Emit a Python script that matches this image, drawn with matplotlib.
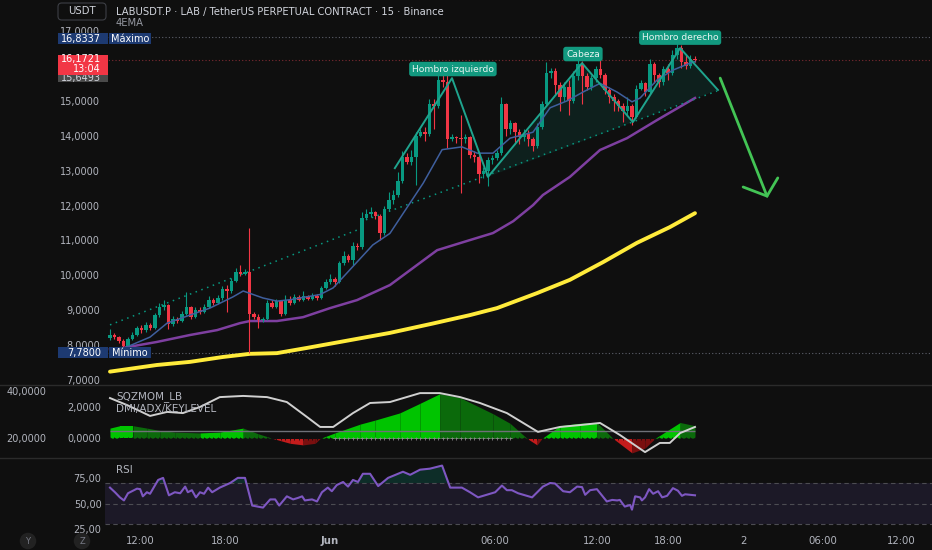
import numpy as np
import matplotlib.pyplot as plt
from matplotlib.patches import Rectangle, FancyBboxPatch
from matplotlib.lines import Line2D
from matplotlib.transforms import blended_transform_factory

# --- velas de 15 min (apertura = cierre anterior) ---
first_open = 8.20
closes = [8.30, 8.22, 8.12, 7.97, 8.18, 8.30, 8.48, 8.42, 8.58, 8.50,
          8.85, 9.10, 9.15, 8.60, 8.75, 8.70, 8.90, 9.08, 8.80, 9.00,
          8.95, 9.10, 9.30, 9.22, 9.35, 9.60, 9.55, 9.85, 10.10, 10.05,
          10.10, 8.90, 8.80, 8.72, 8.75, 9.20, 9.10, 9.25, 8.88, 9.30,
          9.22, 9.38, 9.30, 9.40, 9.33, 9.42, 9.35, 9.65, 9.80, 9.90,
          9.80, 10.35, 10.55, 10.45, 10.85, 10.80, 11.65, 11.75, 11.80, 11.70,
          11.20, 11.90, 12.15, 12.30, 12.70, 13.40, 13.25, 13.40, 14.00, 14.10,
          14.05, 14.90, 14.85, 15.60, 15.55, 13.90, 13.95, 13.92, 13.90, 13.95,
          13.45, 13.40, 12.90, 13.00, 13.30, 13.35, 13.50, 14.90, 14.20, 14.35,
          14.10, 13.95, 14.05, 13.90, 13.70, 14.25, 14.90, 15.80, 15.85, 15.45,
          15.10, 15.40, 15.00, 15.70, 16.05, 15.70, 15.40, 15.65, 15.90, 15.75,
          15.30, 15.10, 15.00, 14.85, 14.70, 14.85, 14.55, 15.35, 15.50, 15.25,
          16.05, 15.75, 15.55, 15.90, 15.80, 16.30, 16.50, 16.10, 16.00, 16.20,
          16.1721]
highs = [8.45, 8.35, 8.26, 8.18, 8.22, 8.38, 8.55, 8.58, 8.66, 8.62,
         8.92, 9.20, 9.30, 9.18, 8.82, 8.80, 8.97, 9.52, 9.12, 9.08,
         9.10, 9.18, 9.42, 9.36, 9.44, 9.68, 9.72, 9.92, 10.20, 10.30,
         10.18, 11.35, 8.95, 8.90, 8.80, 9.28, 9.30, 9.32, 9.30, 9.45,
         9.40, 9.46, 9.44, 9.55, 9.45, 9.48, 9.46, 9.70, 9.90, 10.05,
         9.95, 10.42, 10.70, 10.62, 10.95, 10.92, 11.80, 11.90, 11.95, 11.85,
         11.75, 12.00, 12.40, 12.45, 12.95, 13.55, 13.50, 13.60, 14.10, 14.20,
         14.25, 15.05, 15.05, 15.80, 15.85, 15.90, 14.05, 14.00, 14.60, 14.05,
         14.00, 13.55, 13.45, 13.10, 13.40, 13.45, 13.60, 15.10, 14.95, 14.45,
         14.40, 14.20, 14.20, 14.15, 13.95, 14.35, 15.00, 16.10, 15.95, 15.95,
         15.55, 15.55, 15.60, 15.85, 16.50, 16.15, 15.80, 15.75, 16.00, 16.30,
         15.80, 15.40, 15.20, 15.05, 14.95, 15.10, 14.90, 15.45, 15.60, 15.55,
         16.20, 16.10, 15.80, 16.00, 16.05, 16.45, 16.8337, 16.60, 16.30, 16.30,
         16.28]
lows = [8.15, 8.18, 8.05, 7.90, 7.92, 8.14, 8.25, 8.35, 8.38, 8.44,
        8.47, 8.80, 9.00, 8.45, 8.56, 8.62, 8.66, 8.85, 8.74, 8.77,
        8.88, 8.92, 9.05, 9.16, 9.18, 9.30, 8.95, 9.50, 9.80, 9.98,
        10.00, 7.78, 8.74, 8.50, 8.66, 8.72, 9.05, 9.06, 8.82, 8.85,
        9.16, 9.18, 9.25, 9.26, 9.28, 9.30, 9.30, 9.32, 9.60, 9.75,
        9.70, 9.78, 10.30, 10.38, 10.30, 10.72, 10.75, 11.60, 11.68, 11.62,
        11.00, 11.15, 11.85, 12.05, 12.25, 12.65, 13.20, 13.15, 12.60, 13.95,
        13.85, 14.00, 14.20, 14.80, 15.40, 13.65, 13.85, 13.80, 12.35, 13.80,
        13.35, 13.25, 12.65, 12.80, 12.55, 13.20, 13.30, 13.45, 14.00, 14.05,
        13.80, 13.75, 13.85, 13.70, 13.55, 13.65, 14.20, 14.85, 15.65, 15.20,
        14.70, 15.00, 14.60, 14.95, 15.60, 14.90, 15.30, 15.30, 15.55, 15.65,
        15.20, 14.95, 14.70, 14.70, 14.40, 14.60, 14.30, 14.50, 15.30, 15.15,
        15.20, 15.50, 15.40, 15.45, 15.60, 15.75, 16.20, 15.95, 15.90, 15.95,
        16.10]

max_price = 16.8337
min_price = 7.78
last_price = 16.1721
last_time = "13:04"
prev_price = 15.6493

# --- medias (leídas cada pocas velas) ---
ema_fast_x = [3.8, 8.9, 12.7, 17.1, 22.2, 27.3, 29.6, 34.0, 37.1, 40.0,
              46.7, 49.6, 58.4, 62.2, 69.6, 73.8, 78.2, 81.6, 85.1, 88.9,
              94.0, 97.8, 101.6, 105.1, 108.9, 112.7, 116.0, 117.8, 121.6, 125.1,
              128.9, 130.0]
ema_fast = [7.95, 8.23, 8.63, 8.83, 9.06, 9.38, 9.55, 9.35, 9.26, 9.30,
            9.45, 9.64, 10.87, 11.20, 12.64, 13.60, 13.68, 13.50, 13.50, 13.93,
            14.10, 14.80, 15.00, 15.25, 15.50, 15.25, 14.97, 15.08, 15.60, 15.88,
            16.08, 16.12]
ema_mid_x = [0, 2.9, 10.4, 17.8, 23.8, 28.9, 31.1, 37.1, 42.9, 48.9,
             54.9, 62.2, 72.7, 80.0, 85.1, 89.6, 94.0, 96.2, 102.2, 108.9,
             114.9, 121.6, 130.0]
ema_mid = [7.88, 7.92, 8.09, 8.29, 8.43, 8.63, 8.69, 8.69, 8.80, 9.06,
           9.29, 9.72, 10.72, 11.01, 11.21, 11.55, 12.01, 12.30, 12.82, 13.59,
           13.93, 14.45, 15.08]
ema_slow_x = [0, 10.4, 17.8, 25.1, 31.1, 37.1, 43.8, 51.1, 62.2, 71.8,
              80.0, 86.0, 94.9, 102.2, 109.6, 117.1, 124.4, 130.0]
ema_slow = [7.24, 7.43, 7.52, 7.66, 7.75, 7.77, 7.92, 8.09, 8.35, 8.62,
            8.86, 9.06, 9.49, 9.87, 10.38, 10.93, 11.38, 11.78]

# --- dibujos: tendencia, hombro-cabeza-hombro, flecha ---
trend_x = [0, 55.6]
trend_y = [8.58, 11.33]
neck_x = [55.6, 134.9]
neck_y = [11.53, 15.28]
hs_x = [63.3, 76.0, 84.0, 104.9, 116.2, 126.7, 135.1]
hs_y = [13.07, 15.65, 12.82, 16.08, 14.39, 16.51, 15.31]
hs_labels = ["Hombro izquierdo", "Cabeza", "Hombro derecho"]
hs_label_x = [76.2, 105.1, 126.7]
hs_label_y = [15.91, 16.34, 16.81]
arrow_x = [135.6, 146.0]
arrow_y = [15.65, 12.27]
arrow_head_x = [140.7, 146.0, 148.4]
arrow_head_y = [12.53, 12.27, 12.79]

# --- SQZMOM / ADX ---
mom_x = [0, 2.2, 5.1, 8.2, 11.1, 14.4, 20.0, 24.4, 29.6, 32.9,
         36.2, 40.0, 42.9, 45.6, 46.7, 50.0, 55.6, 58.9, 64.4, 68.9,
         73.3, 77.8, 85.1, 88.9, 92.7, 94.9, 96.0, 100.0, 104.4, 108.2,
         111.8, 116.0, 118.9, 121.1, 126.7, 130.0]
mom = [0.65, 0.80, 0.80, 0.65, 0.50, 0.40, 0.35, 0.40, 0.65, 0.30,
       0.00, -0.30, -0.40, -0.30, 0.00, 0.35, 0.90, 1.15, 1.60, 2.20,
       2.80, 2.55, 1.55, 0.95, 0.00, -0.40, 0.00, 0.80, 0.95, 1.00,
       0.00, -0.90, -0.60, 0.00, 1.00, 0.80]
squeeze_off = (50, 89)
adx_x = [0, 3.8, 8.9, 12.7, 16.2, 20.0, 24.4, 29.6, 34.9, 39.3,
         43.8, 46.7, 49.6, 54.0, 57.8, 62.2, 68.9, 73.3, 77.8, 82.2,
         88.2, 95.1, 100.0, 104.4, 108.9, 113.3, 118.9, 122.2, 124.4, 126.7,
         130.0]
adx = [37.0, 34.0, 29.4, 31.1, 30.6, 33.2, 37.4, 37.9, 37.4, 35.3,
       28.9, 24.7, 24.7, 30.6, 34.9, 35.3, 39.1, 39.1, 37.4, 34.9,
       30.6, 22.6, 24.7, 25.5, 26.4, 21.3, 14.0, 17.9, 17.9, 22.1,
       24.7]
key_level = 23

# --- RSI ---
rsi_x = [0, 1.1, 2.2, 3.1, 4.0, 6.0, 6.7, 7.3, 8.2, 8.9,
         10.7, 11.8, 13.1, 14.4, 15.6, 16.7, 17.3, 18.2, 19.1, 20.0,
         20.9, 21.8, 22.7, 24.4, 26.7, 28.4, 30.0, 31.6, 34.0, 35.6,
         36.7, 37.6, 39.3, 40.7, 41.8, 42.7, 43.3, 44.9, 46.0, 47.1,
         48.4, 49.3, 50.4, 51.8, 52.9, 54.0, 55.1, 56.2, 57.8, 59.6,
         61.8, 65.1, 66.7, 68.9, 71.1, 73.8, 75.6, 78.2, 80.0, 81.8,
         85.6, 87.1, 88.2, 89.3, 90.7, 93.8, 96.2, 97.8, 98.9, 100.7,
         102.2, 103.8, 104.9, 105.6, 106.7, 108.2, 110.4, 111.6, 112.7, 113.3,
         114.4, 115.6, 116.0, 116.7, 117.8, 118.2, 118.9, 119.8, 120.7, 121.8,
         122.7, 123.8, 125.1, 126.2, 127.1, 127.8, 130.0]
rsi = [65.5, 61, 56, 53, 60, 64.5, 64, 57, 61, 59.5,
       73, 75, 58, 61, 60, 66.5, 61, 63, 56, 61,
       59.5, 65.5, 61, 65.5, 70, 75, 75, 48, 46, 54,
       54, 48, 57, 54, 55.5, 57, 53, 54, 52, 61,
       65.5, 62, 68, 71, 66.5, 73, 71, 79, 79, 67,
       75, 81, 78, 83, 84, 87, 65.5, 65.5, 61, 56,
       61, 67.5, 63, 63, 60, 56, 66.5, 70, 69.5, 62,
       61, 66.5, 66, 58.5, 63, 64, 52, 53.5, 53, 53.5,
       47, 48.5, 44, 57, 56, 53, 56, 64, 59.5, 62,
       56, 57.5, 65, 62.5, 57.5, 59, 58]

time_ticks = [6.8, 25.7, 48.7, 85.6, 108.2, 124.0, 140.7, 158.4, 175.8]
time_labels = ["12:00", "18:00", "Jun", "06:00", "12:00", "18:00", "2", "06:00", "12:00"]
price_ticks = [7, 8, 9, 10, 11, 12, 13, 14, 15, 17]

title = "LABUSDT.P · LAB / TetherUS PERPETUAL CONTRACT · 15 · Binance"

# colores TradingView
BG = "#0f0f0f"
TXT = "#b2b5be"
UP = "#089981"
DOWN = "#f23645"
NAVY = "#1d3a72"
W, H = 932, 550


def fx(x):
    return x / W


def fy(y):
    return 1 - y / H


def coma(v, dec):
    return f"{v:.{dec}f}".replace(".", ",")


fig = plt.figure(figsize=(W / 100, H / 100), dpi=100, facecolor=BG)
left, width = fx(105), fx(932) - fx(105)
ax = fig.add_axes([left, fy(385), width, 385 / H])
ax_sqz = fig.add_axes([left, fy(458), width, 73 / H])
ax_rsi = fig.add_axes([left, fy(532), width, 74 / H])

xlim = (-1.11, 182.67)
for a in (ax, ax_sqz, ax_rsi):
    a.set_facecolor(BG)
    a.set_xlim(*xlim)
    for s in a.spines.values():
        s.set_visible(False)
    a.tick_params(axis="both", colors=TXT, labelsize=7, length=0)
    a.set_xticks([])

# ---------------- panel principal ----------------
ax.set_ylim(6.857, 17.888)
c = np.array(closes)
o = np.r_[first_open, c[:-1]]
idx = np.arange(len(c))
cols = np.where(c >= o, UP, DOWN)
ax.vlines(idx, lows, highs, colors=cols, lw=0.8, zorder=3)
ax.bar(idx, np.maximum(np.abs(c - o), 0.03), bottom=np.minimum(o, c),
       width=0.75, color=cols, lw=0, zorder=4)

ax.plot(ema_slow_x, ema_slow, color="#ffeb3b", lw=2.8, zorder=2,
        solid_capstyle="round")
ax.plot(ema_mid_x, ema_mid, color="#7e3fa0", lw=1.8, zorder=2)
ax.plot(ema_fast_x, ema_fast, color="#3f5f9e", lw=1.1, zorder=5)

ax.axhline(max_price, color="#5d606b", lw=0.8, ls=(0, (1, 2)), zorder=1)
ax.axhline(min_price, color="#5d606b", lw=0.8, ls=(0, (1, 2)), zorder=1)
ax.axhline(last_price, color="#7d2a31", lw=0.8, ls=(0, (1, 2)), zorder=1)

ax.plot(trend_x, trend_y, color=UP, lw=1.1, ls=(0, (1, 3)), zorder=2)
ax.plot(neck_x, neck_y, color=UP, lw=1.1, ls=(0, (1, 3)), zorder=2)
ax.fill(hs_x[2:], hs_y[2:], color=UP, alpha=0.13, lw=0, zorder=1)
ax.plot(hs_x, hs_y, color="#1fa48e", lw=1.4, zorder=6)
for s, lx, ly in zip(hs_labels, hs_label_x, hs_label_y):
    ax.text(lx, ly, s, ha="center", va="center", color="#e8f5f2", fontsize=6.6,
            zorder=8, bbox=dict(boxstyle="round,pad=0.3,rounding_size=0.3",
                                fc="#12997f", ec="none"))

ax.plot(arrow_x, arrow_y, color="#43c455", lw=2, zorder=7, solid_capstyle="round")
ax.plot(arrow_head_x, arrow_head_y, color="#43c455", lw=2, zorder=7,
        solid_capstyle="round", solid_joinstyle="miter")

ax.set_yticks(price_ticks)
ax.set_yticklabels([coma(v, 4) for v in price_ticks])
ax.tick_params(axis="y", pad=3.5)

# etiquetas de precio sobre la escala (encima de los ejes)
tr = blended_transform_factory(fig.transFigure, ax.transData)
hpx = 1 / 34.9


def box(x0, x1, ytop, ybot, fc, z=20):
    fig.add_artist(Rectangle((fx(x0), ybot), fx(x1) - fx(x0), ytop - ybot,
                             transform=tr, fc=fc, ec="none", zorder=z))


def label(x, y, text, tc="white", ha="right", z=21):
    fig.text(fx(x), y, text, transform=tr, ha=ha, va="center",
             color=tc, fontsize=7, zorder=z)


box(58, 108, max_price + 3.5 * hpx, max_price - 7.2 * hpx, NAVY)
box(109, 151, max_price + 3.5 * hpx, max_price - 7.2 * hpx, NAVY)
label(101, max_price - 1.9 * hpx, coma(max_price, 4))
label(130, max_price - 1.9 * hpx, "Máximo", ha="center")

box(58, 108, min_price + 5.5 * hpx, min_price - 5.5 * hpx, NAVY)
box(109, 151, min_price + 5.5 * hpx, min_price - 5.5 * hpx, NAVY)
label(101, min_price, coma(min_price, 4))
label(130, min_price, "Mínimo", ha="center")

box(58, 108, prev_price + 6 * hpx, prev_price - 4.2 * hpx, "#4a4a4a")
label(101, prev_price, coma(prev_price, 4), tc="#d1d4dc")
box(58, 108, last_price + 5.3 * hpx, last_price - 15.4 * hpx, DOWN, z=22)
label(101, last_price + 1.2 * hpx, coma(last_price, 4), z=23)
label(101, last_price - 8.8 * hpx, last_time, z=23)

# ---------------- SQZMOM ----------------
ax_sqz.set_ylim(-1.219, 3.344)
for k in range(len(mom_x) - 1):
    y0, y1 = mom[k], mom[k + 1]
    if y0 + y1 >= 0:
        col = "#00c400" if y1 >= y0 else "#0b6a0b"
    else:
        col = "#c41c1c" if y1 < y0 else "#7a0f0f"
    ax_sqz.fill_between(mom_x[k:k + 2], mom[k:k + 2], 0, color=col, lw=0, zorder=2)
dot_cols = ["#8a8a8a" if squeeze_off[0] <= i <= squeeze_off[1] else "#111111"
            for i in idx]
ax_sqz.scatter(idx, np.zeros(len(idx)), marker="+", s=5, c=dot_cols, lw=0.6, zorder=3)
ax_sqz.set_yticks([0, 2])
ax_sqz.set_yticklabels([coma(0, 4), coma(2, 4)])
ax_sqz.tick_params(axis="y", pad=2.5)

ax_adx = ax_sqz.twinx()
ax_adx.set_ylim(11.49, 42.55)
ax_adx.set_xlim(*xlim)
for s in ax_adx.spines.values():
    s.set_visible(False)
ax_adx.hlines(key_level, 0, len(idx) - 1, color="#6f7178", lw=1, zorder=1)
ax_adx.plot(adx_x, adx, color="#d0d0d0", lw=1.4, zorder=4)
ax_adx.yaxis.tick_left()
ax_adx.set_yticks([20, 40])
ax_adx.set_yticklabels([coma(20, 4), coma(40, 4)])
ax_adx.tick_params(axis="y", colors=TXT, labelsize=7, length=0, pad=42)
ax_adx.set_xticks([])

fig.text(fx(116), fy(397), "SQZMOM_LB", color=TXT, fontsize=7.5, va="center")
fig.text(fx(116), fy(409), "DMI/ADX/KEYLEVEL", color=TXT, fontsize=7.5, va="center")

# ---------------- RSI ----------------
ax_rsi.set_ylim(22.2, 94.4)
ax_rsi.axhspan(30, 70, color="#1c1927", lw=0, zorder=0)
for lv in (30, 50, 70):
    ax_rsi.axhline(lv, color="#4c4c52", lw=0.8, ls=(0, (4, 3)), zorder=1)
rx, rv = np.array(rsi_x), np.array(rsi)
ax_rsi.fill_between(rx, rv, 70, where=rv > 70, interpolate=True,
                    color=UP, alpha=0.22, lw=0, zorder=2)
ax_rsi.plot(rx, rv, color="#7e57c2", lw=1.5, zorder=3)
ax_rsi.set_yticks([25, 50, 75])
ax_rsi.set_yticklabels([coma(v, 2) for v in (25, 50, 75)])
ax_rsi.tick_params(axis="y", pad=2.5)
ax_rsi.set_xticks(time_ticks)
ax_rsi.set_xticklabels(time_labels)
ax_rsi.tick_params(axis="x", pad=3, labelsize=7.3)
for lab in ax_rsi.get_xticklabels():
    if lab.get_text() == "Jun":
        lab.set_fontweight("bold")
fig.text(fx(116), fy(470), "RSI", color=TXT, fontsize=7.5, va="center")

# separadores de paneles
for yy in (385, 458):
    fig.add_artist(Line2D([0, 1], [fy(yy), fy(yy)], color="#2b2b2b", lw=1))

# cabecera
fig.add_artist(FancyBboxPatch((fx(58), fy(20)), fx(48), 17 / H,
                              boxstyle="round,pad=0,rounding_size=0.004",
                              mutation_aspect=W / H, transform=fig.transFigure,
                              fc=BG, ec="#3d3f45", lw=0.8))
fig.text(fx(82), fy(11.5), "USDT", color="#d1d4dc", fontsize=7.3,
         ha="center", va="center")
fig.text(fx(116), fy(11.5), title, color="#d1d4dc", fontsize=7.2, va="center")
fig.text(fx(116), fy(23.5), "4EMA", color="#9598a1", fontsize=7.2, va="center")

# botones de abajo
for bx, s in ((28, "Y"), (82, "Z")):
    fig.text(fx(bx), fy(541), s, color="#787b86", fontsize=6, ha="center",
             va="center", bbox=dict(boxstyle="circle,pad=0.45", fc="#222222", ec="none"))

fig.savefig("out.png", dpi=100, facecolor=BG)
